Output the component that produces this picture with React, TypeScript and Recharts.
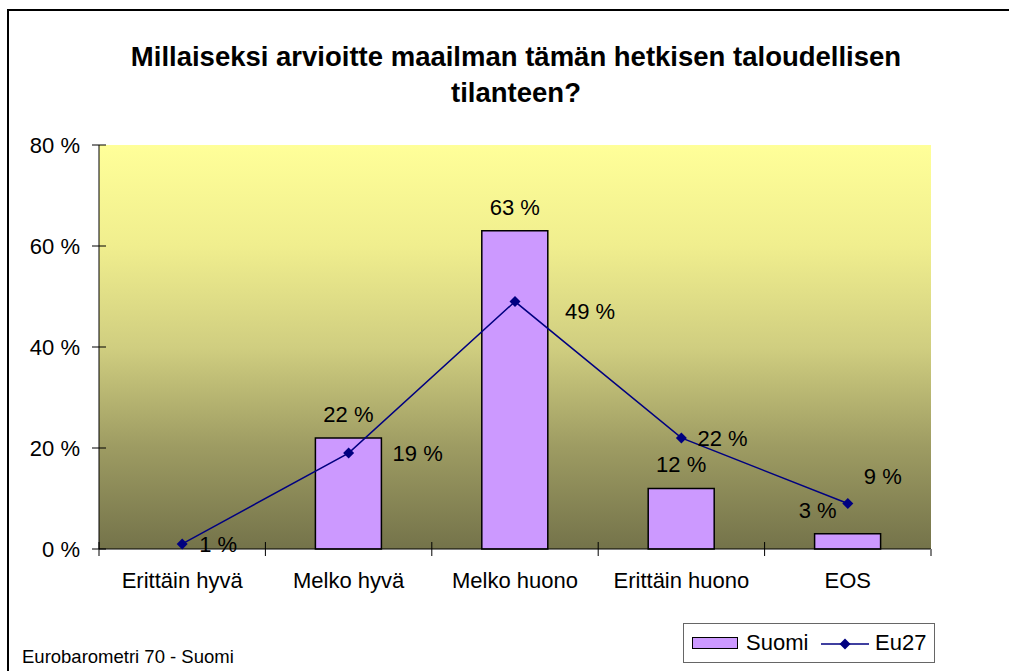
import React from 'react';
import { ComposedChart, Bar, Line, XAxis, YAxis, CartesianGrid, LabelList } from 'recharts';

const categories = ['Erittäin hyvä', 'Melko hyvä', 'Melko huono', 'Erittäin huono', 'EOS'];
const suomi: (number | null)[] = [null, 22, 63, 12, 3];
const eu27 = [1, 19, 49, 22, 9];
const yTicks = [0, 20, 40, 60, 80];

const FONT = '"Liberation Sans", Arial, sans-serif';
const BAR_COLOR = '#cc99ff';
const LINE_COLOR = '#000080';
const PLOT_LEFT = 99;
const PLOT_RIGHT = 931;
const BAND = (PLOT_RIGHT - PLOT_LEFT) / categories.length;

// label nudges, mimicking where Excel put them
const barLabelDx = [0, 0, 0, 0, -30];
const lineLabelDx = [17, 44, 50, 16, 16];
const lineLabelDy = [0, 0, 9, 0, -28];

const data = categories.map((name, i) => ({ name, suomi: suomi[i], eu27: eu27[i] }));

const XTick = (props: any) => {
  const { x, y, payload, index } = props;
  const axisY = y - 19;
  const half = BAND / 2;
  return (
    <g>
      <line x1={x - half} x2={x - half} y1={axisY - 7} y2={axisY + 7} stroke="#000" />
      {index === categories.length - 1 && (
        <line x1={x + half} x2={x + half} y1={axisY} y2={axisY + 7} stroke="#808080" strokeWidth={2} />
      )}
      <text x={x} y={axisY + 39} textAnchor="middle" fontSize={22} fontFamily={FONT} fill="#000">
        {payload.value}
      </text>
    </g>
  );
};

const YTick = (props: any) => {
  const { x, y, payload } = props;
  const axisX = x + 19;
  return (
    <g>
      <line x1={axisX - 7} x2={axisX + 7} y1={y} y2={y} stroke="#000" />
      <text x={axisX - 19} y={y + 8} textAnchor="end" fontSize={22} fontFamily={FONT} fill="#000">
        {`${payload.value} %`}
      </text>
    </g>
  );
};

const BarLabel = (props: any) => {
  const { x, y, width, value } = props;
  if (value == null) return null;
  const i = suomi.indexOf(value);
  return (
    <text x={x + width / 2 + (barLabelDx[i] ?? 0)} y={y - 16} textAnchor="middle" fontSize={22} fontFamily={FONT} fill="#000">
      {`${value} %`}
    </text>
  );
};

const LineLabel = (props: any) => {
  const { x, y, value } = props;
  const i = eu27.indexOf(value);
  return (
    <text x={x + (lineLabelDx[i] ?? 16)} y={y + (lineLabelDy[i] ?? 0) + 8} textAnchor="start" fontSize={22} fontFamily={FONT} fill="#000">
      {`${value} %`}
    </text>
  );
};

const Diamond = (props: any) => {
  const { cx, cy } = props;
  if (cx == null || cy == null) return null;
  const r = 5.5;
  return <polygon points={`${cx},${cy - r} ${cx + r},${cy} ${cx},${cy + r} ${cx - r},${cy}`} fill={LINE_COLOR} />;
};

export default function App() {
  return (
    <div style={{ position: 'fixed', left: 0, top: 0, width: 1009, height: 671, overflow: 'hidden', background: '#fff', fontFamily: FONT }}>
      <div style={{ position: 'absolute', left: 7, top: 9, width: 1020, height: 700, border: '2px solid #000' }} />
      <div
        style={{
          position: 'absolute', left: 116, top: 39, width: 800, textAlign: 'center',
          fontSize: 27.5, fontWeight: 'bold', lineHeight: '36px', color: '#000',
        }}
      >
        Millaiseksi arvioitte maailman tämän hetkisen taloudellisen tilanteen?
      </div>

      <div style={{ position: 'absolute', left: 0, top: 0 }}>
        <ComposedChart width={1009} height={671} data={data} margin={{ top: 145, right: 78, bottom: 82, left: 0 }}>
          <defs>
            <linearGradient id="plotBg" x1="0" y1="0" x2="0" y2="1">
              <stop offset="0%" stopColor="#ffff99" />
              <stop offset="25%" stopColor="#f0ee8e" />
              <stop offset="50%" stopColor="#d0ce80" />
              <stop offset="75%" stopColor="#9d9b62" />
              <stop offset="100%" stopColor="#74734a" />
            </linearGradient>
          </defs>
          <CartesianGrid horizontal={false} vertical={false} fill="url(#plotBg)" />
          <XAxis
            dataKey="name"
            interval={0}
            height={40}
            tickSize={7}
            tickMargin={12}
            tickLine={false}
            axisLine={{ stroke: '#000' }}
            tick={<XTick />}
          />
          <XAxis
            xAxisId="top"
            dataKey="name"
            orientation="top"
            height={0}
            tick={false}
            tickLine={false}
            axisLine={{ stroke: '#808080', strokeWidth: 2 }}
          />
          <YAxis
            domain={[0, 80]}
            ticks={yTicks}
            width={99}
            tickSize={7}
            tickMargin={12}
            tickLine={false}
            axisLine={{ stroke: '#000' }}
            tick={<YTick />}
          />
          <YAxis
            yAxisId="right"
            orientation="right"
            width={0}
            domain={[0, 80]}
            tick={false}
            tickLine={false}
            axisLine={{ stroke: '#808080', strokeWidth: 2 }}
          />
          <Bar dataKey="suomi" fill={BAR_COLOR} stroke="#000" strokeWidth={1.5} barSize={66} isAnimationActive={false}>
            <LabelList dataKey="suomi" content={<BarLabel />} />
          </Bar>
          <Line
            type="linear"
            dataKey="eu27"
            stroke={LINE_COLOR}
            strokeWidth={1.5}
            dot={<Diamond />}
            activeDot={false}
            isAnimationActive={false}
          >
            <LabelList dataKey="eu27" content={<LineLabel />} />
          </Line>
        </ComposedChart>
      </div>

      <div
        style={{
          position: 'absolute', left: 683, top: 623, width: 250, height: 38,
          border: '1px solid #666', background: '#fff', fontSize: 22, color: '#000',
        }}
      >
        <div style={{ position: 'absolute', left: 8, top: 13, width: 44, height: 10, background: BAR_COLOR, border: '1.5px solid #000' }} />
        <div style={{ position: 'absolute', left: 62, top: 6, lineHeight: '26px' }}>Suomi</div>
        <svg style={{ position: 'absolute', left: 137, top: 13 }} width={48} height={14}>
          <line x1={0} x2={48} y1={7} y2={7} stroke={LINE_COLOR} strokeWidth={1.5} />
          <polygon points="24,1.5 29.5,7 24,12.5 18.5,7" fill={LINE_COLOR} />
        </svg>
        <div style={{ position: 'absolute', left: 191, top: 6, lineHeight: '26px' }}>Eu27</div>
      </div>

      <div style={{ position: 'absolute', left: 22, top: 647, fontSize: 18.5, lineHeight: '20px', color: '#000' }}>
        Eurobarometri 70 - Suomi
      </div>
    </div>
  );
}
